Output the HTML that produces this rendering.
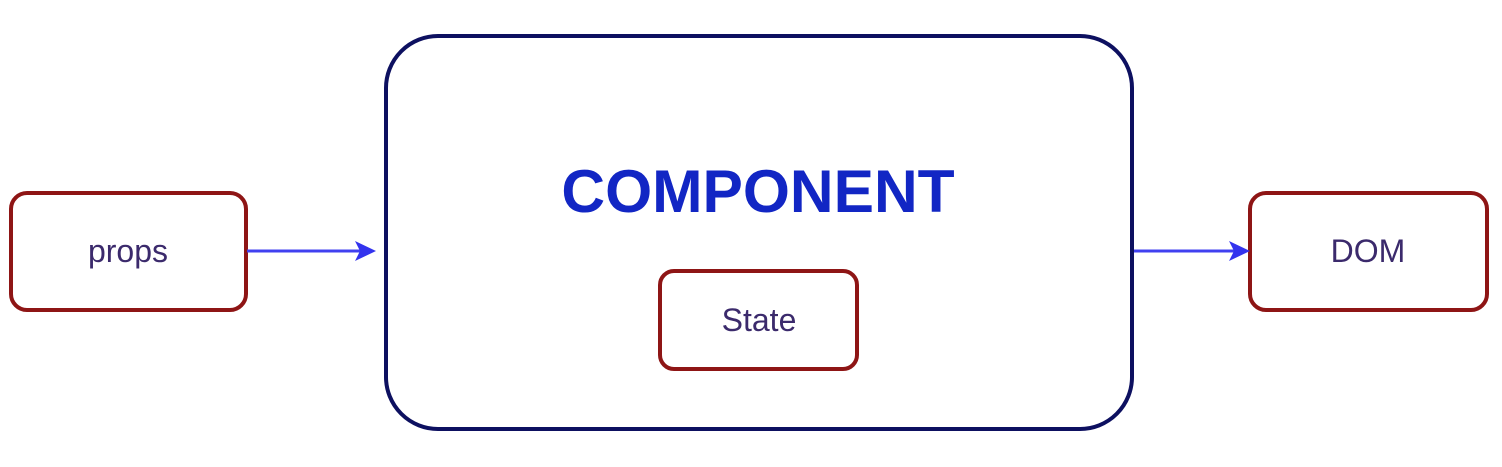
<!DOCTYPE html>
<html><head><style>html,body{margin:0;padding:0;background:#fff;}</style></head>
<body>
<svg width="1502" height="462" viewBox="0 0 1502 462" xmlns="http://www.w3.org/2000/svg" font-family="Liberation Sans, sans-serif">
<rect x="386" y="36" width="746" height="393" rx="52" fill="#fff" stroke="#0d1060" stroke-width="4"/>
<rect x="11" y="193" width="235" height="117" rx="16" fill="#fff" stroke="#8e1515" stroke-width="4"/>
<rect x="1250" y="193" width="237" height="117" rx="16" fill="#fff" stroke="#8e1515" stroke-width="4"/>
<rect x="660" y="271" width="197" height="98" rx="14" fill="#fff" stroke="#8e1515" stroke-width="4"/>
<line x1="247" y1="251" x2="362" y2="251" stroke="#4040f0" stroke-width="3"/>
<polygon points="376,251 355,241 360,251 355,261" fill="#3333ee"/>
<line x1="1134" y1="251" x2="1236" y2="251" stroke="#4040f0" stroke-width="3"/>
<polygon points="1250,251 1229,241 1234,251 1229,261" fill="#3333ee"/>
<text x="758" y="212" text-anchor="middle" font-size="60.5" font-weight="bold" fill="#1226c4">COMPONENT</text>
<text x="128" y="262" text-anchor="middle" font-size="32" fill="#3b2a6c">props</text>
<text x="1368" y="262" text-anchor="middle" font-size="32" fill="#3b2a6c">DOM</text>
<text x="759" y="331" text-anchor="middle" font-size="32" fill="#3b2a6c">State</text>
</svg>
</body></html>
